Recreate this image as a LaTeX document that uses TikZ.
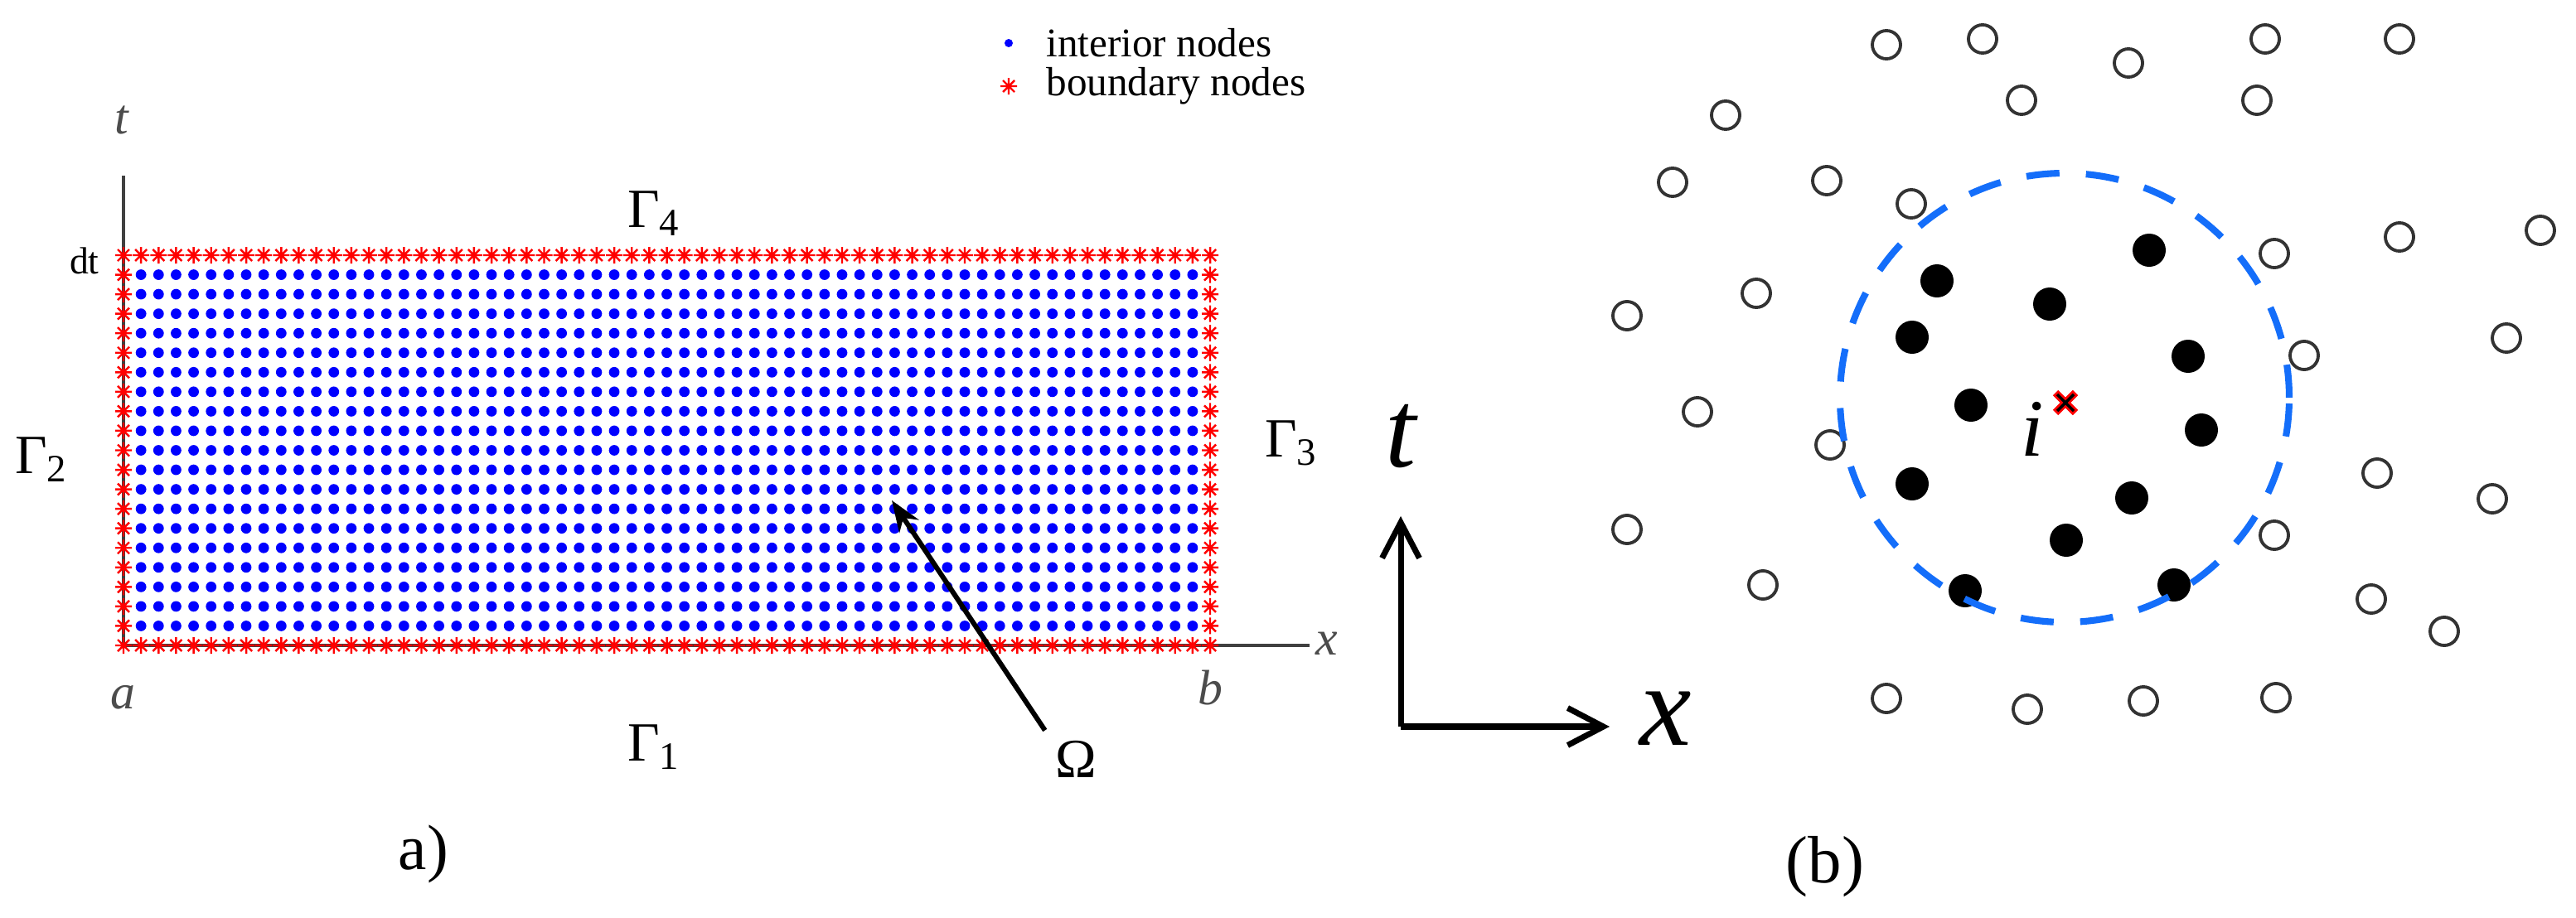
\documentclass[tikz,border=0pt]{standalone}
\usepackage{fontspec}
\setmainfont{Liberation Serif}
\usetikzlibrary{arrows.meta}

\definecolor{circblue}{RGB}{20,110,250}
% red asterisk used for the boundary nodes
\newcommand{\bstar}[1]{\draw[bnd] #1 +(-0.1,0) -- +(0.1,0) +(0,-0.1) -- +(0,0.1)
  +(-0.07,-0.07) -- +(0.07,0.07) +(-0.07,0.07) -- +(0.07,-0.07);}

\begin{document}
\begin{tikzpicture}[>=Stealth,
  bnd/.style={red, line width=0.7pt},
  axis/.style={draw=black!75, line width=0.9pt},
  opennode/.style={draw=black!80, line width=1.1pt},
  glab/.style={font=\fontsize{19}{22}\selectfont},
  axlab/.style={text=black!70, font=\fontsize{17}{20}\selectfont\itshape},
  leg/.style={anchor=west, font=\fontsize{14}{16}\selectfont},
  ]
  \useasboundingbox (0,0) rectangle (31.08,11.07);
  \def\dx{0.21145}
  \def\dy{0.2355}

  % Axes (left)
  \coordinate (ttop) at (1.49,8.95);
  \coordinate (orgA) at (1.49,3.28);
  \coordinate (xend) at (15.80,3.28);
  \draw[axis] (ttop) -- (orgA) -- (xend);
  \node[axlab] (tA) at (1.47,9.62) {t};
  \node[axlab] (xA) at (16.01,3.30) {x};
  \node[axlab] (aA) at (1.48,2.65) {a};
  \node[axlab] (bA) at (14.60,2.77) {b};
  \node[anchor=east, font=\fontsize{13}{15}\selectfont] (dt) at (1.32,7.92) {dt};

  % Interior nodes
  \foreach \i in {1,...,61}
    \foreach \j in {1,...,19}
      \fill[blue] ({1.49+\i*\dx},{3.28+\j*\dy}) circle (0.064);

  % Boundary nodes
  \foreach \i in {0,...,62} {
    \bstar{({1.49+\i*\dx},3.28)}
    \bstar{({1.49+\i*\dx},7.99)}
  }
  \foreach \j in {1,...,19} {
    \bstar{(1.49,{3.28+\j*\dy})}
    \bstar{(14.60,{3.28+\j*\dy})}
  }

  % Legend
  \fill[blue] (12.17,10.55) circle (0.05);
  \node[leg] (legin) at (12.50,10.55) {interior nodes};
  \bstar{(12.17,10.03)}
  \node[leg] (legbd) at (12.50,10.03) {boundary nodes};

  % Boundaries and domain
  \node[glab] (g4) at (7.89,8.49) {Γ\textsubscript{4}};
  \node[glab] (g2) at (0.50,5.52) {Γ\textsubscript{2}};
  \node[glab] (g3) at (15.58,5.72) {Γ\textsubscript{3}};
  \node[glab] (g1) at (7.89,2.05) {Γ\textsubscript{1}};
  \node[glab] (om) at (12.98,1.91) {Ω};
  \coordinate (omtip) at (10.76,5.03);
  \draw[->, line width=1.7pt] (om.north west) -- (omtip);
  \node[font=\fontsize{22}{26}\selectfont] (capa) at (5.11,0.76) {a)};

  % Axes (right)
  \coordinate (orgB) at (16.90,2.30);
  \coordinate (tup) at (16.90,4.84);
  \coordinate (xright) at (19.42,2.30);
  \draw[line width=2pt, -{Straight Barb[length=4.3mm, width=4.5mm]}] (orgB) -- (tup);
  \draw[line width=2pt, -{Straight Barb[length=4.3mm, width=4.5mm]}] (orgB) -- (xright);
  \node[font=\fontsize{38}{44}\selectfont\itshape] (tB) at (16.90,5.80) {t};
  \node[font=\fontsize{40}{46}\selectfont\itshape] (xB) at (20.10,2.40) {x};

  % Scattered nodes
  \foreach \p in {(22.76,10.53),(20.82,9.68),(20.18,8.87),(22.04,8.89),(21.19,7.53),
      (19.63,7.26),(20.48,6.10),(22.08,5.70),(23.92,10.60),(25.68,10.31),(24.39,9.86),
      (23.06,8.61),(27.33,10.60),(28.95,10.60),(27.23,9.86),(28.95,8.21),(30.65,8.29),
      (27.44,8.01),(27.80,6.78),(30.24,6.99),(19.63,4.68),(21.27,4.01),(22.76,2.64),
      (24.46,2.51),(25.86,2.61),(28.68,5.36),(30.07,5.05),(27.44,4.61),(28.61,3.84),
      (29.49,3.45),(27.46,2.65)}
    \draw[opennode] \p circle (0.17);
  \foreach \p in {(25.93,8.05),(23.37,7.68),(24.73,7.40),(23.07,7.00),(26.40,6.77),
      (23.78,6.18),(26.56,5.88),(23.07,5.23),(25.72,5.06),(24.93,4.55),(23.71,3.94),
      (26.23,4.01)}
    \fill[black] \p circle (0.20);

  % Support domain of node i
  \coordinate (ni) at (24.92,6.21);
  \draw[circblue, line width=2.3pt, dash pattern=on 0.40cm off 0.32cm] (24.91,6.27) circle (2.71);
  \draw[red, line width=0.09cm] (ni) +(-0.12,-0.12) -- +(0.12,0.12) +(-0.12,0.12) -- +(0.12,-0.12);
  \draw[black, line width=0.035cm] (ni) +(-0.1,-0.1) -- +(0.1,0.1) +(-0.1,0.1) -- +(0.1,-0.1);
  \node[font=\fontsize{28}{32}\selectfont\itshape] (ilab) at (24.52,5.89) {i};
  \node[font=\fontsize{23}{27}\selectfont] (capb) at (22.02,0.61) {(b)};
\end{tikzpicture}
\end{document}
